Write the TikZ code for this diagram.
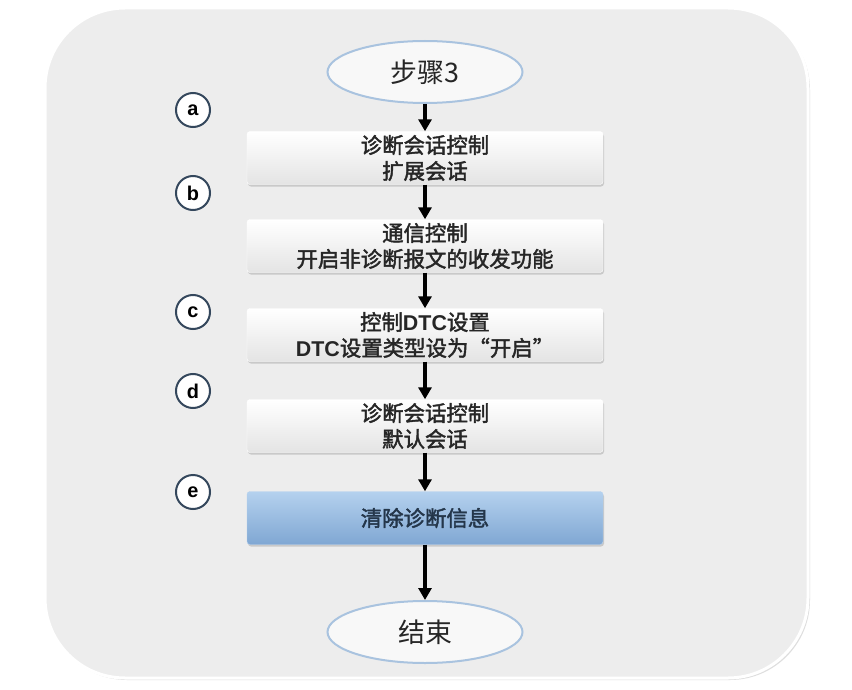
\documentclass[tikz,border=0pt]{standalone}
\usepackage{fontspec}
\setmainfont{Noto Sans CJK SC}[AutoFakeBold=2]
\newfontfamily\latinfont{Liberation Sans}
\usetikzlibrary{shapes.geometric,shadows,arrows.meta}
\definecolor{panelgray}{HTML}{EDEDED}
\definecolor{ringblue}{HTML}{A9C3DF}
\definecolor{boxtop}{HTML}{FFFFFF}
\definecolor{boxbottom}{HTML}{E4E4E4}
\definecolor{bluetop}{HTML}{B5D1EE}
\definecolor{bluebottom}{HTML}{7FA7D3}
\definecolor{markring}{HTML}{34475C}
\definecolor{textgray}{HTML}{262626}
\definecolor{bluetext}{HTML}{24364A}

\tikzset{
  startend/.style={ellipse, draw=ringblue, line width=2bp, fill=white!60!panelgray,
    minimum width=195bp, minimum height=62bp, inner sep=0pt,
    font=\fontsize{27}{29}\selectfont, text=textgray},
  stepbox/.style={rectangle, rounded corners=3bp, minimum width=356bp, minimum height=53bp,
    top color=boxtop, bottom color=boxbottom, draw=white, inner sep=0pt,
    drop shadow={shadow xshift=1bp, shadow yshift=-2bp, fill=black!35},
    align=center, font=\bfseries\fontsize{21.5}{26}\selectfont, text=textgray},
  bluebox/.style={stepbox, top color=bluetop, bottom color=bluebottom, draw=bluetop,
    text=bluetext},
  marker/.style={circle, draw=markring, line width=2bp, fill=white, minimum size=34bp,
    inner sep=0pt, font=\latinfont\bfseries\fontsize{20}{20}\selectfont},
  flow/.style={line width=3.6bp, -{Triangle[length=12bp,width=13bp]}}
}

\begin{document}
\begin{tikzpicture}[x=1bp,y=-1bp]
  \useasboundingbox (0,0) rectangle (852,690);
  \fill[white] (0,0) rectangle (852,690);
  % panel
  \draw[white, line width=3bp, fill=panelgray, rounded corners=80bp,
    drop shadow={shadow xshift=2bp, shadow yshift=-2bp, fill=black!25}]
    (45,8) rectangle (808,678);

  % flow nodes
  \node[startend] (start) at (425,72) {步骤3};
  \node[stepbox] (extsession) at (425,158) {诊断会话控制\\扩展会话};
  \node[stepbox] (comctrl) at (425,246) {通信控制\\开启非诊断报文的收发功能};
  \node[stepbox] (dtcset) at (425,335) {控制{\latinfont\bfseries DTC}设置\\{\latinfont\bfseries DTC}设置类型设为“开启”};
  \node[stepbox] (defsession) at (425,426) {诊断会话控制\\默认会话};
  \node[bluebox] (cleardtc) at (425,518) {清除诊断信息};
  \node[startend] (finish) at (425,632) {结束};

  % step markers
  \node[marker] (ma) at (193,110) {a};
  \node[marker] (mb) at (193,193) {b};
  \node[marker] (mc) at (193,312) {c};
  \node[marker] (md) at (193,391) {d};
  \node[marker] (me) at (193,492) {e};

  % connectors
  \draw[flow] (start) -- (extsession);
  \draw[flow] (extsession) -- (comctrl);
  \draw[flow] (comctrl) -- (dtcset);
  \draw[flow] (dtcset) -- (defsession);
  \draw[flow] (defsession) -- (cleardtc);
  \draw[flow] (cleardtc) -- (finish);
\end{tikzpicture}
\end{document}
